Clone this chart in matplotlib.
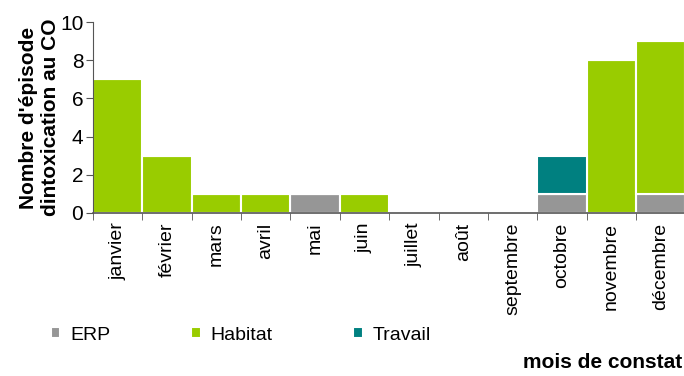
import numpy as np
import matplotlib.pyplot as plt

plt.rcParams['font.family'] = ['Liberation Sans', 'DejaVu Sans']

mois = ['janvier', 'février', 'mars', 'avril', 'mai', 'juin', 'juillet',
        'août', 'septembre', 'octobre', 'novembre', 'décembre']
erp = [0, 0, 0, 0, 1, 0, 0, 0, 0, 1, 0, 1]
habitat = [7, 3, 1, 1, 0, 1, 0, 0, 0, 0, 8, 8]
travail = [0, 0, 0, 0, 0, 0, 0, 0, 0, 2, 0, 0]

fig = plt.figure(figsize=(6.84, 3.76), dpi=100)
ax = fig.add_axes([0.136, 0.434, 0.866, 0.507])

x = np.arange(len(mois))
erp = np.array(erp)
habitat = np.array(habitat)
travail = np.array(travail)

ax.bar(x, erp, width=1.0, color='#969696', edgecolor='white', linewidth=1.5, label='ERP')
ax.bar(x, habitat, width=1.0, bottom=erp, color='#99CC00', edgecolor='white', linewidth=1.5, label='Habitat')
ax.bar(x, travail, width=1.0, bottom=erp + habitat, color='#008080', edgecolor='white', linewidth=1.5, label='Travail')

ax.set_xlim(-0.5, len(mois) - 0.5)
ax.set_ylim(0, 10)
ax.set_yticks([0, 2, 4, 6, 8, 10])
ax.tick_params(axis='y', labelsize=15, length=5, color='#555555', pad=2)

ax.set_xticks(x)
ax.set_xticklabels(mois, rotation=90, fontsize=14)
ax.tick_params(axis='x', which='major', length=0, pad=7)
ax.set_xticks(np.arange(-0.5, len(mois)), minor=True)
ax.tick_params(axis='x', which='minor', length=5, color='#555555')

for s in ['top', 'right']:
    ax.spines[s].set_visible(False)
ax.spines['left'].set_color('#555555')
ax.spines['bottom'].set_color('#555555')
ax.spines['bottom'].set_linewidth(1.2)

ax.set_ylabel("Nombre d'épisode\ndintoxication au CO", fontsize=15, fontweight='bold', labelpad=0)

fig.legend(loc='center left', bbox_to_anchor=(0.06, 0.109), ncol=3, frameon=False,
           fontsize=14, handlelength=0.5, handleheight=0.5, handletextpad=0.5,
           columnspacing=4.15, borderpad=0)

fig.text(0.998, 0.01, 'mois de constat', ha='right', va='bottom', fontsize=15, fontweight='bold')

plt.savefig('out.png', dpi=100)
